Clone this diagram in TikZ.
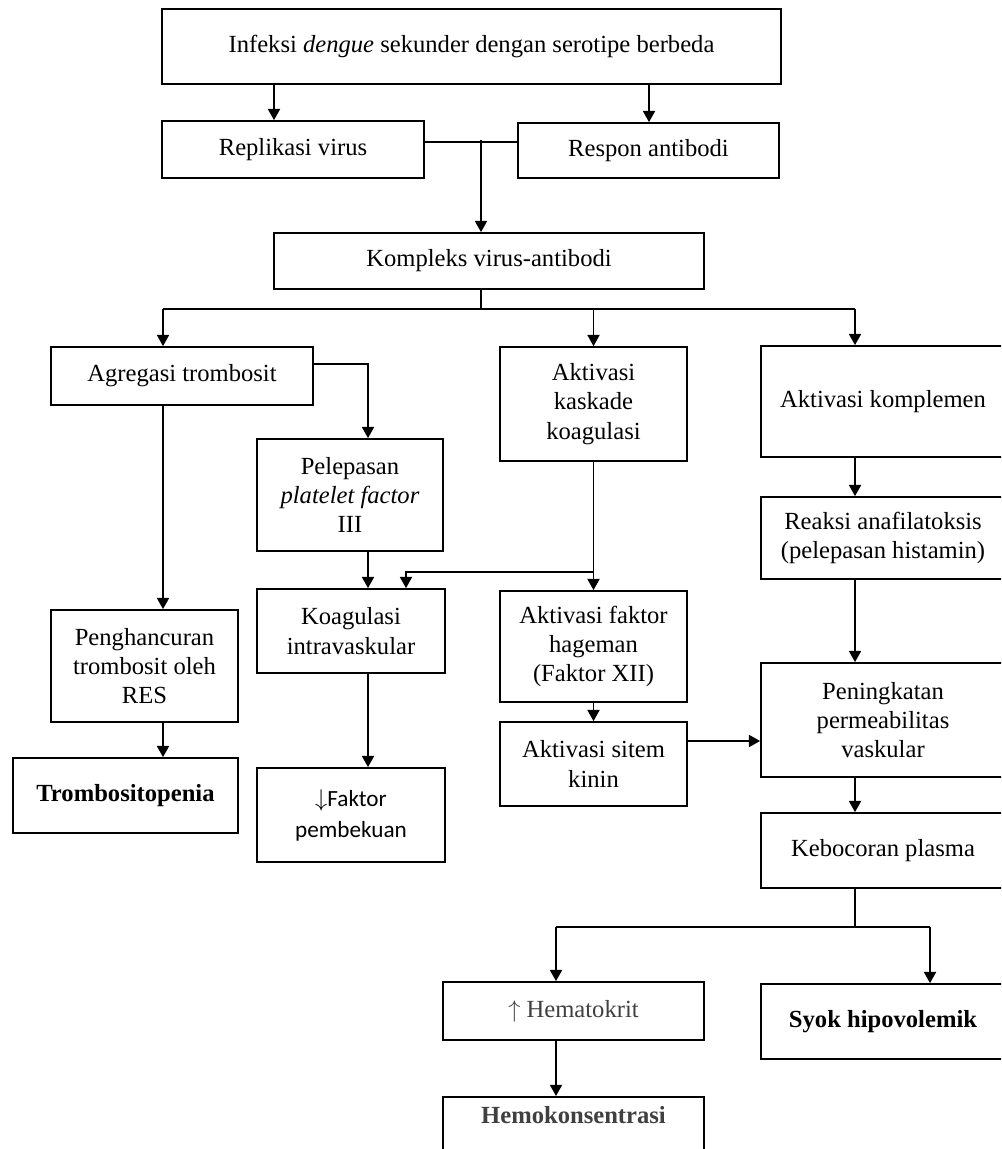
\documentclass[tikz,border=0pt]{standalone}
\usepackage{fontspec}
\setmainfont{Liberation Serif}
\newfontfamily\calibrifont{Carlito}
\usepackage{xcolor}
\definecolor{hemagray}{RGB}{64,64,64}
\usetikzlibrary{arrows.meta}

\begin{document}
\begin{tikzpicture}[x=0.025cm, y=-0.025cm,
  box/.style={rectangle, draw=black, line width=1.2pt, align=center,
              inner sep=2pt, font=\fontsize{17.5}{20.8}\selectfont},
  wide/.style={box, minimum width=6.1cm},
  line/.style={draw, line width=1.3pt},
  arrow/.style={line, -{Triangle[length=0.28cm, width=0.3cm]}}
]
\useasboundingbox (0,0) rectangle (1001,1149);
\fill[white] (0,0) rectangle (1001,1149);
\clip (0,0) rectangle (1001,1149);

% Top
\node[box, minimum width=15.475cm, minimum height=1.875cm] (infeksi) at (471.5,46.5) {Infeksi \textit{dengue} sekunder dengan serotipe berbeda};
\node[box, minimum width=6.55cm, minimum height=1.425cm] (replikasi) at (293,149.5) {Replikasi virus};
\node[box, minimum width=6.525cm, minimum height=1.375cm] (respon) at (648.5,150.5) {Respon antibodi};
\node[box, minimum width=10.75cm, minimum height=1.4cm] (kompleks) at (489,261) {Kompleks virus-antibodi};

% Left column
\node[box, minimum width=6.55cm, minimum height=1.45cm] (agregasi) at (182,376) {Agregasi trombosit};
\node[box, minimum width=4.65cm, minimum height=2.8cm] (pelepasan) at (350,495) {Pelepasan\\\textit{platelet factor}\\III};
\node[box, minimum width=4.7cm, minimum height=2.1cm] (koagulasi) at (351,631) {Koagulasi\\intravaskular};
\node[box, minimum width=4.675cm, minimum height=2.8cm] (penghancuran) at (144.5,666) {Penghancuran\\trombosit oleh\\RES};
\node[box, minimum width=5.625cm, minimum height=1.875cm] (trombositopenia) at (125.5,795.5) {\bfseries Trombositopenia};
\node[box, minimum width=4.7cm, minimum height=2.35cm,
      font=\calibrifont\fontsize{16.5}{22}\selectfont] (pembekuan) at (351,815) {$\downarrow$Faktor\\pembekuan};

% Middle column
\node[box, minimum width=4.675cm, minimum height=2.85cm] (kaskade) at (593.5,404) {Aktivasi\\kaskade\\koagulasi};
\node[box, minimum width=4.675cm, minimum height=2.775cm] (faktorxii) at (593.5,646.5) {Aktivasi faktor\\hageman\\(Faktor XII)};
\node[box, minimum width=4.675cm, minimum height=2.1cm] (kinin) at (593.5,764) {Aktivasi sitem\\kinin};

% Right column
\node[wide, minimum height=2.775cm] (komplemen) at (883,401.5) {Aktivasi komplemen};
\node[wide, minimum height=2.05cm] (reaksi) at (883,538) {Reaksi anafilatoksis\\(pelepasan histamin)};
\node[wide, minimum height=2.85cm] (peningkatan) at (883,720) {Peningkatan\\permeabilitas\\vaskular};
\node[wide, minimum height=1.875cm] (kebocoran) at (883,850.5) {Kebocoran plasma};
\node[wide, minimum height=1.875cm] (syok) at (883,1021.5) {\bfseries Syok hipovolemik};

% Bottom
\node[box, minimum width=6.525cm, minimum height=1.45cm, text=hemagray] (hematokrit) at (573.5,1011) {$\uparrow$ Hematokrit};
\node[box, minimum width=6.525cm, anchor=north, inner ysep=0pt, text height=0.66cm,
      text depth=1.6cm, text=hemagray] (hemokonsentrasi) at (573.5,1096) {\bfseries Hemokonsentrasi};

% Junctions
\coordinate (laneA) at (274,0);
\coordinate (laneB) at (649,0);
\coordinate (merge) at (481,142);
\coordinate (split) at (481,309);
\coordinate (splitL) at (163,309);
\coordinate (splitR) at (855,309);
\coordinate (plt) at (368,364);
\coordinate (join) at (406,572);
\coordinate (kk) at (0,741);
\coordinate (split2) at (855,927);
\coordinate (s2L) at (556,927);
\coordinate (s2R) at (930,927);

% Lines
\draw[arrow] (infeksi.south -| laneA) -- (replikasi.north -| laneA);
\draw[arrow] (infeksi.south -| laneB) -- (respon.north -| laneB);
\draw[line] (replikasi.east |- merge) -- (respon.west |- merge);
\draw[arrow] ([yshift=0.05cm]merge) -- (kompleks.north -| merge);
\draw[line] (kompleks.south -| split) -- (split);
\draw[line] (splitL) -- (splitR);
\draw[arrow] (splitL) -- (agregasi.north -| splitL);
\draw[arrow] (split -| kaskade.north) -- (kaskade.north);
\draw[arrow] (splitR) -- (komplemen.north -| splitR);

\draw[arrow] (agregasi.east |- plt) -| (pelepasan.north -| plt);
\draw[arrow] (agregasi.south -| splitL) -- (penghancuran.north -| splitL);
\draw[arrow] (penghancuran.south -| splitL) -- (trombositopenia.north -| splitL);
\draw[arrow] (pelepasan.south -| plt) -- (koagulasi.north -| plt);
\draw[arrow] (koagulasi.south -| plt) -- (pembekuan.north -| plt);

\draw[arrow] (kaskade.south) -- (faktorxii.north);
\draw[arrow] (kaskade.south |- join) -| (koagulasi.north -| join);
\draw[arrow] (faktorxii.south) -- (kinin.north);
\draw[arrow] (kinin.east |- kk) -- (peningkatan.west |- kk);

\draw[arrow] (komplemen.south -| splitR) -- (reaksi.north -| splitR);
\draw[arrow] (reaksi.south -| splitR) -- (peningkatan.north -| splitR);
\draw[arrow] (peningkatan.south -| splitR) -- (kebocoran.north -| splitR);

\draw[line] (kebocoran.south -| split2) -- (split2);
\draw[line] (s2L) -- (s2R);
\draw[arrow] (s2L) -- (hematokrit.north -| s2L);
\draw[arrow] (s2R) -- (syok.north -| s2R);
\draw[arrow] (hematokrit.south -| s2L) -- (hemokonsentrasi.north -| s2L);

\end{tikzpicture}
\end{document}
